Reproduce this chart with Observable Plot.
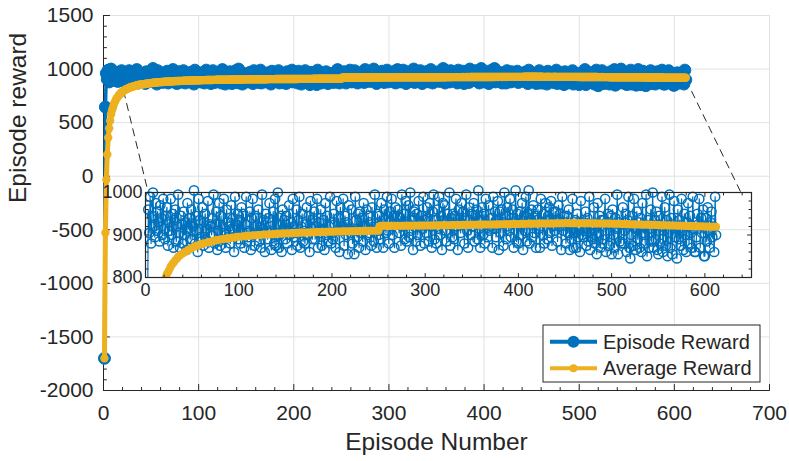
<!DOCTYPE html>
<html><head><meta charset="utf-8">
<script src="https://cdn.jsdelivr.net/npm/d3@7"></script>
<script src="https://cdn.jsdelivr.net/npm/@observablehq/plot@0.6"></script>
<style>
body{margin:0;background:#fff;}
#wrap{position:relative;width:789px;height:461px;font-family:"Liberation Sans",Arial,sans-serif;background:#fff;}
#wrap > svg{position:absolute;}
</style></head><body><div id="wrap"></div>
<script>
// ---- data ----
const episodeReward = [-1700, 645,
960,905,990,880,945,1000,920,895,975,910,955,930,885,970,940,900,985,915,
890,945,965,875,930,910,985,900,950,870,
935,960,885,920,995,905,870,945,925,880,
955,900,930,865,975,915,940,890,960,890,
920,1005,880,945,910,860,985,935,895,885,
965,875,930,950,890,915,980,870,925,920,
900,940,995,880,925,955,865,910,975,875,
945,890,920,985,905,870,960,930,895,920,
880,970,915,940,860,990,925,900,950,890,
935,880,965,905,950,870,925,990,885,895,
910,955,865,940,985,900,875,945,920,905,
960,885,920,870,995,915,935,860,950,910,
890,940,975,905,865,930,955,880,985,875,
925,1000,870,900,945,860,960,915,935,890,
945,880,910,970,900,930,865,985,920,895,
905,960,875,935,990,870,920,950,885,910,
880,925,965,900,945,860,980,915,890,940,
955,890,920,985,870,930,905,960,875,910,
935,865,975,900,945,885,920,990,880,905,
890,950,925,870,980,910,940,860,965,910,
920,985,875,945,900,930,855,970,915,905,
960,880,910,855,990,935,895,950,870,955,
905,940,885,975,920,865,960,900,945,905,
930,875,965,910,885,995,920,870,950,900,
945,890,975,920,870,960,935,905,990,910,
880,955,930,985,900,945,870,965,925,945,
960,905,940,875,995,920,950,890,980,885,
925,970,895,1000,910,935,865,955,960,885,
950,900,980,930,875,945,915,990,880,935,
905,965,940,885,975,920,870,955,995,890,
935,880,960,915,990,900,945,865,975,935,
970,910,885,950,925,1000,875,940,895,950,
890,945,985,920,865,960,930,905,975,925,
955,880,940,995,910,870,965,935,900,950,
920,975,885,945,960,890,1005,915,870,935,
965,900,950,880,985,925,895,970,910,920,
940,870,990,915,955,895,935,980,865,955,
905,960,930,875,1000,945,890,965,920,910,
985,895,940,960,870,930,1005,885,950,880,
925,955,900,975,865,945,910,990,885,950,
1005,880,935,960,895,970,905,945,870,935,
960,915,870,985,930,900,950,880,975,935,
890,945,965,905,980,875,920,955,910,955,
935,885,970,920,950,865,990,910,945,930,
880,945,905,960,865,925,890,985,870,905,
935,870,950,895,915,860,980,900,930,895,
910,955,875,940,885,990,865,925,895,890,
965,880,920,855,975,905,945,870,935,880,
890,935,985,860,925,950,875,910,945,855,
960,900,870,940,915,995,855,930,885,880,
925,965,880,910,950,860,935,990,870,845,
900,945,875,985,915,865,955,890,930,870,
940,860,975,905,920,880,995,850,935,870,
915,960,885,1000,870,935,890,955,865,855,
945,880,920,990,860,910,965,875,935,850,
905,995,870,940,855,925,980,895,920,845,
960,890,935,875,985,910,865,950,900,860,
930,975,880,945,905,870,990,915,860,860,
895,950,925,985,870,940,905,960,850,850,
940,885,965,910,870,930,955,895,920,860,
990,900];
const averageWindow = 250;               // averaging window (episodes)
const seriesNames = ["Episode Reward", "Average Reward"];
const xLabel = "Episode Number";
const yLabel = "Episode reward";
const xTicks = [0,100,200,300,400,500,600,700];
const yTicks = [-2000,-1500,-1000,-500,0,500,1000,1500];
const insetXTicks = [0,100,200,300,400,500,600];
const insetYTicks = [800,900,1000];
const insetXDomain = [0,650];
const insetYDomain = [800,1000];
// dashed connectors (main-axes data coordinates)
const zoomLinks = [
  {x1: 21, y1: 800, x2: 47, y2: -152},
  {x1: 612, y1: 905, x2: 670, y2: -152}
];

// ---- styling ----
const FONT = '"Liberation Sans", Arial, sans-serif';
const ink = "#262626", blue = "#0072BD", yellow = "#EDB120", gridColor = "#e2e2e2";
const W = 789, H = 461;
const frame = {left: 103, right: 769, top: 15, bottom: 390};
const inset = {left: 145, right: 751, top: 192, bottom: 277};

const data = episodeReward.map((r, i) => ({episode: i + 1, reward: r}));
const avg = (o) => Plot.windowY({k: averageWindow, anchor: "end", reduce: "mean", strict: false}, o);
const inInset = d => d.reward >= insetYDomain[0] - 10 && d.reward <= insetYDomain[1] + 20;

const tickShape = {draw(ctx, l) { ctx.moveTo(0, 0); ctx.lineTo(0, -l); }};
const ticks = (vals, dim, fa, rotate, len) =>
  Plot.vector(vals, {[dim]: d => d, frameAnchor: fa, rotate, length: len, anchor: "start",
    shape: tickShape, stroke: ink, strokeWidth: 1});
const minorOf = (lo, hi, step, majors) => d3.range(lo, hi + 1e-9, step).filter(v => !majors.includes(v));

const wrap = document.getElementById("wrap");

// ---- main chart ----
const main = Plot.plot({
  width: W, height: H,
  marginLeft: frame.left, marginRight: W - frame.right,
  marginTop: frame.top, marginBottom: H - frame.bottom,
  x: {domain: [0, 700], label: null},
  y: {domain: [-2000, 1500], label: null},
  style: {fontFamily: FONT, color: ink, background: "transparent", overflow: "visible"},
  marks: [
    Plot.ruleX(xTicks, {stroke: gridColor, strokeWidth: 1}),
    Plot.ruleY(yTicks, {stroke: gridColor, strokeWidth: 1}),
    Plot.ruleX([0], {stroke: ink, strokeWidth: 1}),
    Plot.ruleY([-2000], {stroke: ink, strokeWidth: 1}),
    ticks(xTicks, "x", "bottom", 0, 6),
    ticks(minorOf(0, 700, 20, xTicks), "x", "bottom", 0, 3),
    ticks(yTicks, "y", "left", 90, 6),
    ticks(minorOf(-2000, 1500, 100, yTicks), "y", "left", 90, 3),
    Plot.axisX(xTicks, {tickSize: 0, tickPadding: 15, fontSize: 21, label: null, tickFormat: d => String(d), fill: ink}),
    Plot.axisY(yTicks, {tickSize: 0, tickPadding: 10, fontSize: 21, label: null, tickFormat: d => String(d), fill: ink}),
    Plot.text([xLabel], {text: d => d, frameAnchor: "bottom", dy: 52, fontSize: 24.5, lineAnchor: "middle", fill: ink}),
    Plot.text([yLabel], {text: d => d, frameAnchor: "left", dx: -85, rotate: -90, fontSize: 24.5, lineAnchor: "middle", fill: ink}),
    Plot.link(zoomLinks, {x1: "x1", y1: "y1", x2: "x2", y2: "y2", stroke: ink, strokeWidth: 1, strokeDasharray: "8,5"}),
    Plot.line(data, {x: "episode", y: "reward", stroke: blue, strokeWidth: 3.5}),
    Plot.dot(data, {x: "episode", y: "reward", r: 6, fill: blue, stroke: blue, strokeWidth: 1}),
    Plot.line(data, avg({x: "episode", y: "reward", stroke: yellow, strokeWidth: 5})),
    Plot.dot(data, avg({x: "episode", y: "reward", r: 4.2, fill: yellow}))
  ]
});
main.style.left = "0px"; main.style.top = "0px";
wrap.appendChild(main);

// ---- inset ----
const im = {l: 50, r: 8, t: 12, b: 32};
const insetPlot = Plot.plot({
  width: inset.right - inset.left + im.l + im.r,
  height: inset.bottom - inset.top + im.t + im.b,
  marginLeft: im.l, marginRight: im.r, marginTop: im.t, marginBottom: im.b,
  x: {domain: insetXDomain, label: null},
  y: {domain: insetYDomain, label: null},
  style: {fontFamily: FONT, color: ink, background: "transparent", overflow: "visible"},
  marks: [
    Plot.line(data, {x: "episode", y: "reward", stroke: blue, strokeWidth: 1.2, clip: true}),
    Plot.dot(data, {x: "episode", y: "reward", filter: inInset, r: 4.6, fill: "none", stroke: blue, strokeWidth: 1.5}),
    Plot.line(data, avg({x: "episode", y: "reward", stroke: yellow, strokeWidth: 8, clip: true})),
    Plot.frame({stroke: ink, strokeWidth: 1.2}),
    ticks(insetXTicks, "x", "bottom", 0, 4),
    ticks(minorOf(0, 640, 20, insetXTicks), "x", "bottom", 0, 2.5),
    ticks(insetXTicks, "x", "top", 180, 4),
    ticks(minorOf(0, 640, 20, insetXTicks), "x", "top", 180, 2.5),
    ticks(insetYTicks, "y", "left", 90, 4),
    ticks(minorOf(800, 1000, 20, insetYTicks), "y", "left", 90, 2.5),
    ticks(insetYTicks, "y", "right", -90, 4),
    ticks(minorOf(800, 1000, 20, insetYTicks), "y", "right", -90, 2.5),
    Plot.axisX(insetXTicks, {tickSize: 0, tickPadding: 6, fontSize: 18, label: null, tickFormat: d => String(d), fill: ink}),
    Plot.axisY(insetYTicks, {tickSize: 0, tickPadding: 3, fontSize: 18, label: null, tickFormat: d => String(d), fill: ink})
  ]
});
insetPlot.style.left = (inset.left - im.l) + "px";
insetPlot.style.top = (inset.top - im.t) + "px";
wrap.appendChild(insetPlot);

// ---- legend ----
const lg = {x: 543, y: 325, w: 217, h: 57};
const legend = d3.create("svg")
  .attr("width", lg.w + 2).attr("height", lg.h + 2)
  .style("left", (lg.x - 1) + "px").style("top", (lg.y - 1) + "px")
  .style("font-family", FONT);
legend.append("rect").attr("x", 1).attr("y", 1).attr("width", lg.w).attr("height", lg.h)
  .attr("fill", "#fff").attr("stroke", ink).attr("stroke-width", 1);
const rows = [
  {name: seriesNames[0], color: blue, r: 6, cy: 17.7},
  {name: seriesNames[1], color: yellow, r: 4, cy: 44.3}
];
rows.forEach(d => {
  legend.append("line").attr("x1", 8).attr("x2", 55).attr("y1", d.cy).attr("y2", d.cy)
    .attr("stroke", d.color).attr("stroke-width", 4);
  legend.append("circle").attr("cx", 31.5).attr("cy", d.cy).attr("r", d.r).attr("fill", d.color);
  legend.append("text").attr("x", 61).attr("y", d.cy).attr("dy", "0.35em")
    .attr("font-size", 20).attr("fill", ink).text(d.name);
});
wrap.appendChild(legend.node());
</script>
</body></html>
